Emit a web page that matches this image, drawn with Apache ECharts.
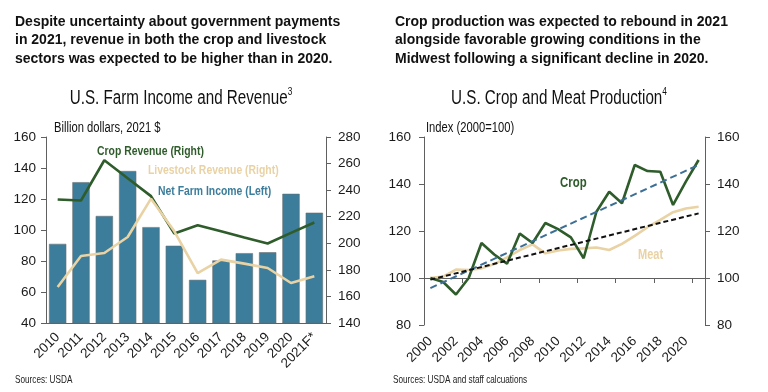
<!DOCTYPE html>
<html><head><meta charset="utf-8">
<script src="https://cdn.jsdelivr.net/npm/echarts@6/dist/echarts.min.js"></script>
<style>html,body{margin:0;padding:0;background:#fff}#c{width:768px;height:392px}</style>
</head><body><div id="c"></div>
<script>
// ---- data ----
const farmYears = ['2010','2011','2012','2013','2014','2015','2016','2017','2018','2019','2020','2021F*'];
const netFarmIncome = [91.2, 131, 109.2, 138.2, 102, 90, 68, 80.5, 85.2, 85.8, 123.5, 111.3];
const cropRevenue = [233, 232.2, 262.5, 249, 235.5, 207.3, 213.5, 209, 204.3, 199.8, 207.8, 215.6];
const livestockRevenue = [167.1, 190.4, 192.7, 204.7, 233.6, 209, 177.6, 187.7, 184.7, 181.4, 170.1, 175.1];

const prodYears = ['2000','2001','2002','2003','2004','2005','2006','2007','2008','2009','2010',
  '2011','2012','2013','2014','2015','2016','2017','2018','2019','2020','2021'];
const cropProduction = [100, 98.3, 93, 100, 114.9, 110, 106.1, 118.9, 114.9, 123.4, 120.8,
  117.3, 108.4, 128.2, 136.7, 131.8, 148.1, 145.5, 145.2, 131.1, 141, 150.2];
const meatProduction = [100, 100.6, 103.6, 103.4, 104.1, 105.9, 108.8, 111.9, 114.3, 110.5, 111.7,
  112.4, 112.6, 113, 111.9, 114.5, 117.9, 121.6, 124.7, 128, 129.6, 130.3];
const trendYears = ['2000', '2021'];
const cropTrend = [95.7, 148.1];
const meatTrend = [99.3, 127.5];

const leftTicks = {min: 40, max: 160, interval: 20};
const rightTicks = {min: 140, max: 280, interval: 20};
const prodTicks = {min: 80, max: 160, interval: 20};
const prodBaseline = 100;

// ---- style ----
const SANS = "'Liberation Sans',Arial,sans-serif";
const BLUE = '#3b7d9b', GREEN = '#2e5c2a', TAN = '#e9d2a4', TREND_BLUE = '#3c6f96';
const AX = '#606060';
const NARROW_SCALE = 0.8;

const g1 = {left: 46, right: 442, top: 137, bottom: 69};
const g2 = {left: 424, right: 63, top: 137, bottom: 67};
const g2h = 392 - g2.top - g2.bottom;
const baseOffset = -g2h * (prodBaseline - prodTicks.min) / (prodTicks.max - prodTicks.min);

const tickLabel = {fontFamily: SANS, fontSize: 13.5, color: '#1a1a1a'};
function yAx(grid, pos, t, margin) {
  return {type: 'value', gridIndex: grid, position: pos, min: t.min, max: t.max, interval: t.interval,
    axisLine: {show: true, lineStyle: {color: AX, width: 1}},
    axisTick: {show: true, length: 5, lineStyle: {color: AX}},
    splitLine: {show: false},
    axisLabel: Object.assign({margin: margin}, tickLabel)};
}

const chart = echarts.init(document.getElementById('c'), null, {renderer: 'canvas'});
const titleRich = {
  t: {fontFamily: SANS, fontSize: 20, fill: '#111', lineHeight: 24},
  s: {fontFamily: SANS, fontSize: 11, fill: '#111', verticalAlign: 'top', lineHeight: 14}
};
function txt(text, x, y, font, fill, sx, align) {
  return {type: 'text', x: x, y: y, scaleX: sx || NARROW_SCALE, silent: true,
    style: {text: text, font: font, fill: fill, verticalAlign: 'middle', align: align || 'left'}};
}
function ttl(main, sup, x, y) {
  return {type: 'text', x: x, y: y, scaleX: 0.76, silent: true,
    style: {text: '{t|' + main + '}{s|' + sup + '}', rich: titleRich, align: 'center', verticalAlign: 'middle'}};
}
const option = {
  animation: false,
  backgroundColor: '#fff',
  graphic: [
    {type: 'text', left: 15, top: 13, silent: true, style: {
      text: 'Despite uncertainty about government payments\nin 2021, revenue in both the crop and livestock\nsectors was expected to be higher than in 2020.',
      font: 'bold 14px ' + SANS, fill: '#111', lineHeight: 18.4}},
    {type: 'text', left: 395, top: 13, silent: true, style: {
      text: 'Crop production was expected to rebound in 2021\nalongside favorable growing conditions in the\nMidwest following a significant decline in 2020.',
      font: 'bold 14px ' + SANS, fill: '#111', lineHeight: 18.4}},
    ttl('U.S. Farm Income and Revenue', '3', 181, 98),
    ttl('U.S. Crop and Meat Production', '4', 559, 98),
    txt('Billion dollars, 2021 $', 54, 128, '14px ' + SANS, '#111'),
    txt('Index (2000=100)', 426, 128, '14px ' + SANS, '#111'),
    txt('Crop Revenue (Right)', 97, 151, 'bold 13px ' + SANS, GREEN),
    txt('Livestock Revenue (Right)', 148, 170, 'bold 13px ' + SANS, TAN),
    txt('Net Farm Income (Left)', 158, 191, 'bold 13px ' + SANS, BLUE),
    txt('Crop', 560, 183, 'bold 15px ' + SANS, GREEN, 0.76),
    txt('Meat', 638, 255, 'bold 14.5px ' + SANS, TAN, 0.76),
    txt('Sources: USDA', 15, 380, '10.5px ' + SANS, '#222', 0.78),
    txt('Sources: USDA and staff calcuations', 393, 380, '10.5px ' + SANS, '#222', 0.78)
  ],
  grid: [g1, g2],
  xAxis: [
    {type: 'category', gridIndex: 0, data: farmYears,
      axisLine: {lineStyle: {color: AX}}, axisTick: {length: 5, lineStyle: {color: AX}},
      axisLabel: Object.assign({rotate: 45, interval: 0, margin: 12}, tickLabel)},
    {type: 'category', gridIndex: 1, data: prodYears,
      axisLine: {show: false}, axisTick: {show: false},
      axisLabel: Object.assign({rotate: 45, interval: 1, margin: 14}, tickLabel)},
    {type: 'category', gridIndex: 1, data: prodYears, position: 'bottom', offset: baseOffset,
      axisLine: {show: true, lineStyle: {color: AX}}, axisTick: {show: true, length: 5, lineStyle: {color: AX}},
      axisLabel: {show: false}}
  ],
  yAxis: [
    yAx(0, 'left', leftTicks, 10),
    yAx(0, 'right', rightTicks, 12),
    yAx(1, 'left', prodTicks, 13),
    yAx(1, 'right', prodTicks, 12)
  ],
  series: [
    {type: 'bar', xAxisIndex: 0, yAxisIndex: 0, data: netFarmIncome, barCategoryGap: '24%',
      itemStyle: {color: BLUE, borderColor: 'rgba(110,110,110,0.55)', borderWidth: 1}},
    {type: 'line', xAxisIndex: 0, yAxisIndex: 1, data: cropRevenue, symbol: 'none',
      lineStyle: {color: GREEN, width: 2.6}},
    {type: 'line', xAxisIndex: 0, yAxisIndex: 1, data: livestockRevenue, symbol: 'none',
      lineStyle: {color: TAN, width: 2.6}},
    {type: 'line', xAxisIndex: 1, yAxisIndex: 2, data: meatProduction, symbol: 'none',
      lineStyle: {color: TAN, width: 2.6}},
    {type: 'line', xAxisIndex: 1, yAxisIndex: 2, data: cropProduction, symbol: 'none',
      lineStyle: {color: GREEN, width: 2.6}},
    {type: 'line', xAxisIndex: 1, yAxisIndex: 2, data: trendYears.map((y, i) => [y, cropTrend[i]]), symbol: 'none',
      lineStyle: {color: TREND_BLUE, width: 2, type: [7, 4]}},
    {type: 'line', xAxisIndex: 1, yAxisIndex: 2, data: trendYears.map((y, i) => [y, meatTrend[i]]), symbol: 'none',
      lineStyle: {color: '#111', width: 2, type: [5, 3]}}
  ]
};
chart.setOption(option);
</script></body></html>
